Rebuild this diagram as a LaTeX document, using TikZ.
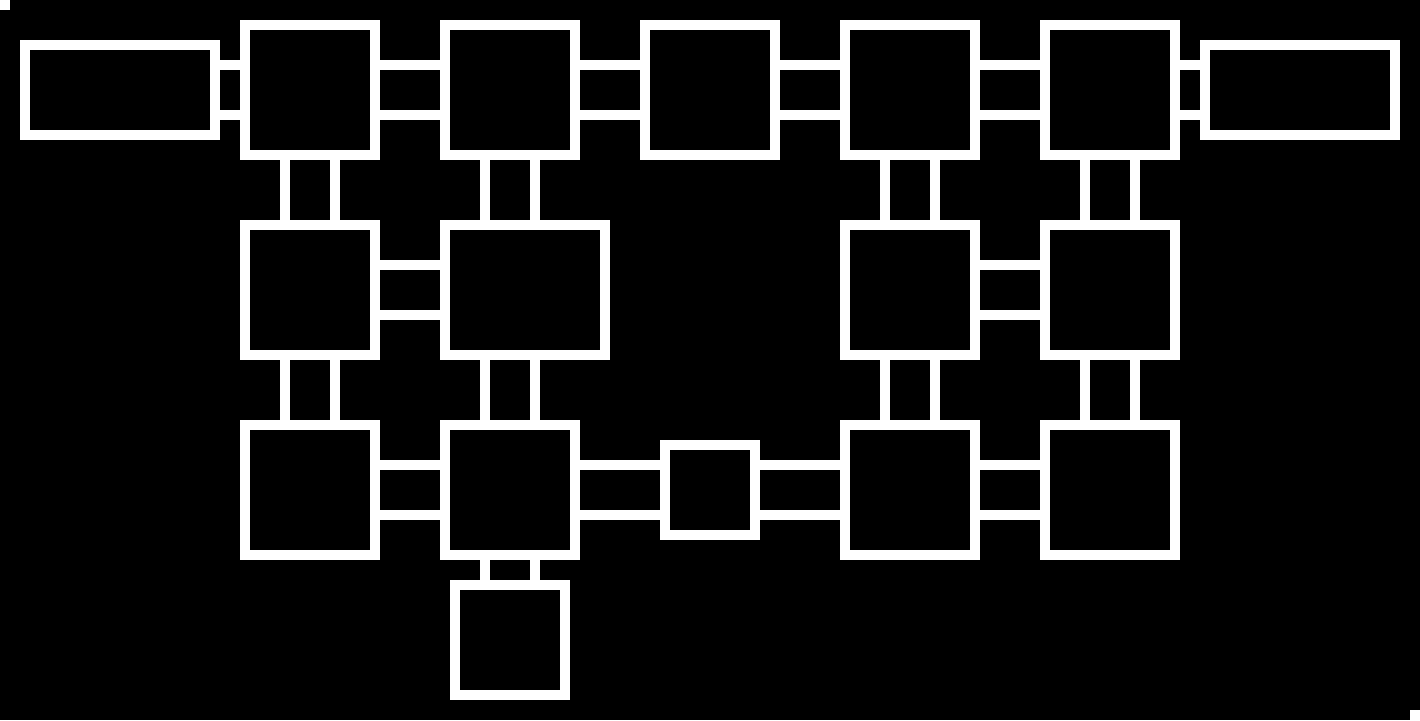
\documentclass[tikz,border=0pt]{standalone}
\usepackage{tikz}
\begin{document}
\begin{tikzpicture}[x=1pt,y=-1pt,
	room/.style={draw=white,line width=10pt,inner sep=0pt,minimum width=130pt,minimum height=130pt},
	hall/.style={draw=white,line width=10pt}]
	\fill[black] (0,0) rectangle (1420,720);
	\useasboundingbox (0,0) rectangle (1420,720);
	\fill[white] (0,0) rectangle (10,10);
	\fill[white] (1410,710) rectangle (1420,720);
	
	% rooms
	\node[room,minimum width=190pt,minimum height=90pt] (west) at (120,90) {};
	\node[room,minimum width=190pt,minimum height=90pt] (east) at (1300,90) {};
	\foreach \c/\x in {1/310,2/510,3/710,4/910,5/1110}
	\node[room] (r1\c) at (\x,90) {};
	\node[room] (r21) at (310,290) {};
	\node[room,minimum width=160pt] (r22) at (525,290) {};
	\node[room] (r24) at (910,290) {};
	\node[room] (r25) at (1110,290) {};
	\node[room] (r31) at (310,490) {};
	\node[room] (r32) at (510,490) {};
	\node[room,minimum width=90pt,minimum height=90pt] (r33) at (710,490) {};
	\node[room] (r34) at (910,490) {};
	\node[room] (r35) at (1110,490) {};
	\node[room,minimum width=110pt,minimum height=110pt] (r42) at (510,640) {};
	
	% corridors
	\foreach \a/\b in {west/r11,r11/r12,r12/r13,r13/r14,r14/r15,r15/east,r21/r22,r24/r25,r31/r32,r32/r33,r33/r34,r34/r35}
	\foreach \s in {-25,25}
	\draw[hall] ([yshift=\s pt]\a.east) -- ([yshift=\s pt]\a.east -| \b.west);
	\foreach \a/\b/\c in {r11/r21/r11,r21/r31/r31,r12/r22/r12,r22/r32/r32,r32/r42/r32,r14/r24/r14,r24/r34/r34,r15/r25/r15,r25/r35/r35}
	\foreach \s in {-25,25}
	\draw[hall] ([xshift=\s pt]\c.south |- \a.south) -- ([xshift=\s pt]\c.south |- \b.north);
\end{tikzpicture}
\end{document}
